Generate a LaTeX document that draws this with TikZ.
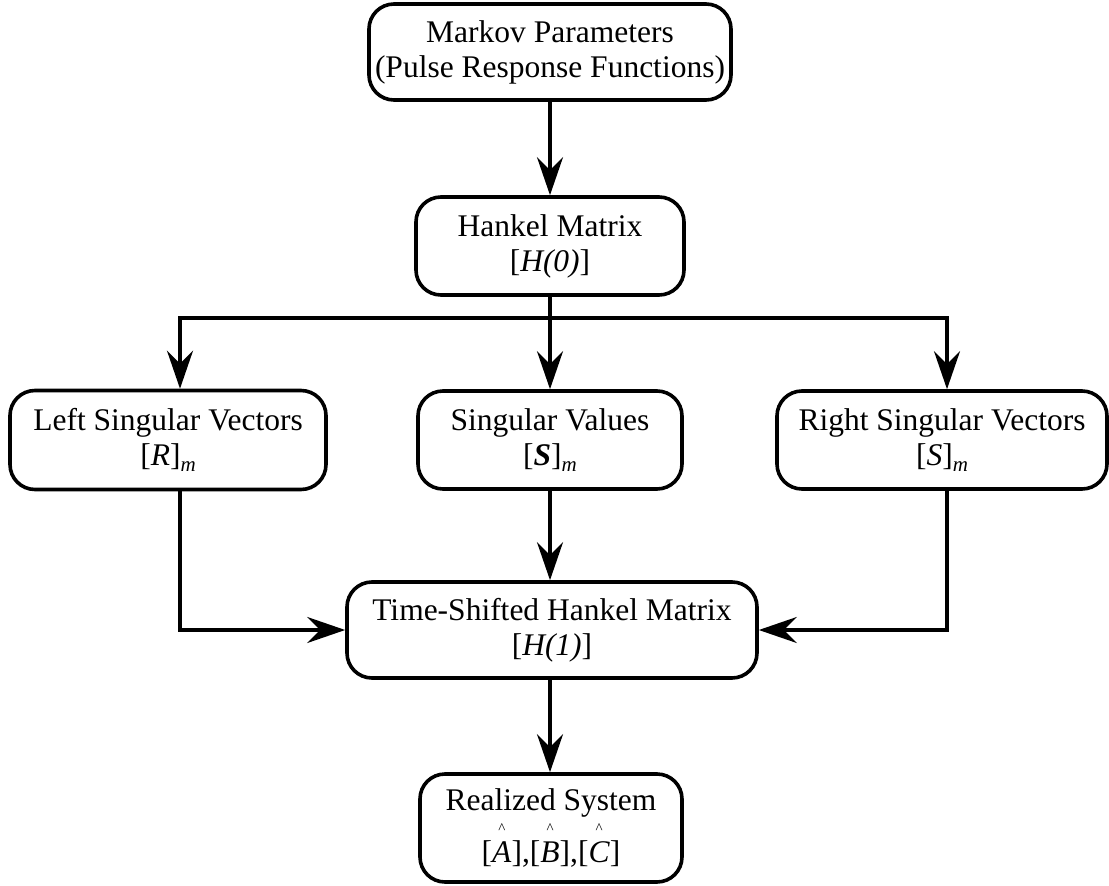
\documentclass[tikz,border=0pt]{standalone}
\usepackage{fontspec}
\setmainfont{Liberation Serif}
\usetikzlibrary{arrows.meta}

% letter with a small circumflex floating above it
\newcommand\hatletter[1]{\ooalign{\textit{#1}\cr\hidewidth\raisebox{29pt}[0pt][0pt]{\fontsize{15}{15}\selectfont\textasciicircum}\hidewidth\cr}}
% italic subscript m
\newcommand\subm{\raisebox{-6pt}{\fontsize{21}{21}\selectfont\textit{m}}}

\tikzset{
  block/.style={draw, line width=3.6pt, rounded corners=25pt, align=center,
    inner sep=0pt, font=\fontsize{31.5}{35}\selectfont},
  arr/.style={line width=3.6pt, -{Stealth[length=38pt,width=26pt,inset=13pt]}},
  wire/.style={line width=3.6pt}
}

\begin{document}
\begin{tikzpicture}[x=1pt,y=-1pt]
\useasboundingbox (0,0) rectangle (1109,886);

\node[block, minimum width=362pt, minimum height=96pt] (top) at (550,52)
  {Markov Parameters\\(Pulse Response Functions)};
\node[block, minimum width=268pt, minimum height=98pt] (hankel) at (550,246)
  {Hankel Matrix\\{[}\textit{H(0)}{]}};
\node[block, minimum width=316pt, minimum height=99pt] (left) at (168,440)
  {Left Singular Vectors\\{[}\textit{R}{]}\subm};
\node[block, minimum width=264pt, minimum height=98pt] (sv) at (550,440)
  {Singular Values\\{[}\textbf{\textit{S}}{]}\subm};
\node[block, minimum width=330pt, minimum height=98pt] (right) at (942,440)
  {Right Singular Vectors\\{[}\textit{S}{]}\subm};
\node[block, minimum width=410pt, minimum height=96pt] (shift) at (552,630)
  {Time-Shifted Hankel Matrix\\{[}\textit{H(1)}{]}};
\node[block, minimum width=262pt, minimum height=108pt] (real) at (551,828)
  {Realized System\\[17pt]{[}\hatletter{A}{]},{[}\hatletter{B}{]},{[}\hatletter{C}{]}};

% flow from the data to the Hankel matrix
\draw[arr] (top.south) -- (hankel.north);

% split into the three factors of the decomposition
\coordinate (split) at (550,318);
\draw[wire] (hankel.south) -- (split);
\draw[arr] (split) -| ([xshift=12pt]left.north);
\draw[arr] (split) -- (sv.north);
\draw[arr] (split) -| ([xshift=5pt]right.north);

% recombination with the shifted matrix
\draw[arr] ([xshift=12pt]left.south) |- (shift.west);
\draw[arr] (sv.south) -- ([xshift=-2pt]shift.north);
\draw[arr] ([xshift=5pt]right.south) |- (shift.east);

\draw[arr] ([xshift=-2pt]shift.south) -- ([xshift=-1pt]real.north);
\end{tikzpicture}
\end{document}
